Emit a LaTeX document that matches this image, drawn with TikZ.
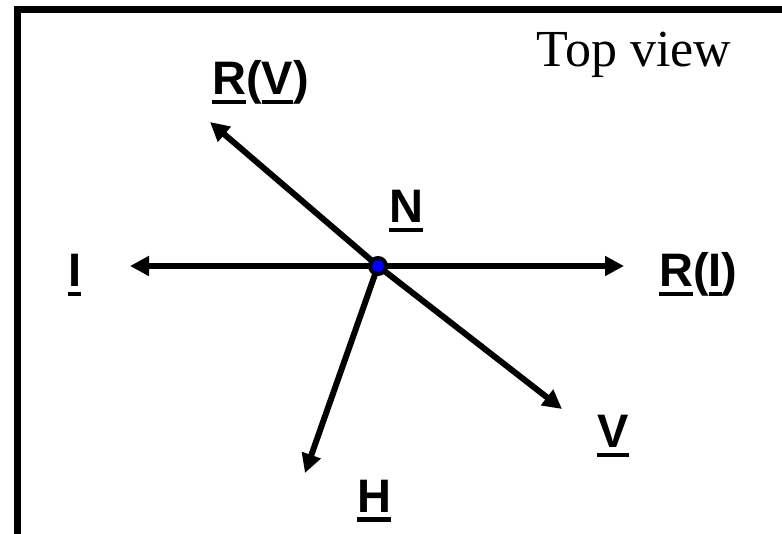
\documentclass[tikz,border=0pt]{standalone}
\usepackage{fontspec}
\setmainfont{Liberation Serif}
\setsansfont{Liberation Sans}
\usetikzlibrary{arrows.meta}
\newcommand\ulin[1]{\setbox0\hbox{#1}\rlap{\rule[-9.5pt]{\wd0}{4.5pt}}\box0}
\tikzset{
  lbl/.style={inner sep=0pt, anchor=base west, font=\sffamily\bfseries\fontsize{47}{56}\selectfont},
  arr/.style={line width=6pt, -{Triangle[length=19pt,width=19pt]}},
}
\begin{document}
\begin{tikzpicture}[x=1pt,y=-1pt]
\useasboundingbox (0,0) rectangle (782,534);
% frame (top and left sides only)
\draw[line width=7pt, line join=miter] (17.5,540) -- (17.5,10) -- (790,10);
% title
\node[inner sep=0pt, anchor=base, font=\fontsize{52}{60}\selectfont] (title) at (634,67) {Top view};
% centre point
\coordinate (c) at (378,266);
\coordinate (tI) at (130,266);
\coordinate (tRI) at (624,266);
\coordinate (tRV) at (210,122);
\coordinate (tV) at (562,409);
\coordinate (tH) at (305,473);
\draw[arr] (c) -- (tI);
\draw[arr] (c) -- (tRI);
\draw[arr] (c) -- (tRV);
\draw[arr] (c) -- (tV);
\draw[arr] (c) -- (tH);
\node[circle, draw=black, line width=4pt, fill=blue, minimum size=16pt, inner sep=0pt] (n) at (c) {};
% labels
\node[lbl] (lRV) at (212,95) {\ulin{R}(\ulin{V})};
\node[lbl] (lN) at (389,223) {\ulin{N}};
\node[lbl] (lI) at (68,287) {\ulin{I}};
\node[lbl] (lRI) at (659,287) {\ulin{R}(\ulin{I})};
\node[lbl] (lV) at (597,448) {\ulin{V}};
\node[lbl] (lH) at (357,512) {\ulin{H}};
\end{tikzpicture}
\end{document}
